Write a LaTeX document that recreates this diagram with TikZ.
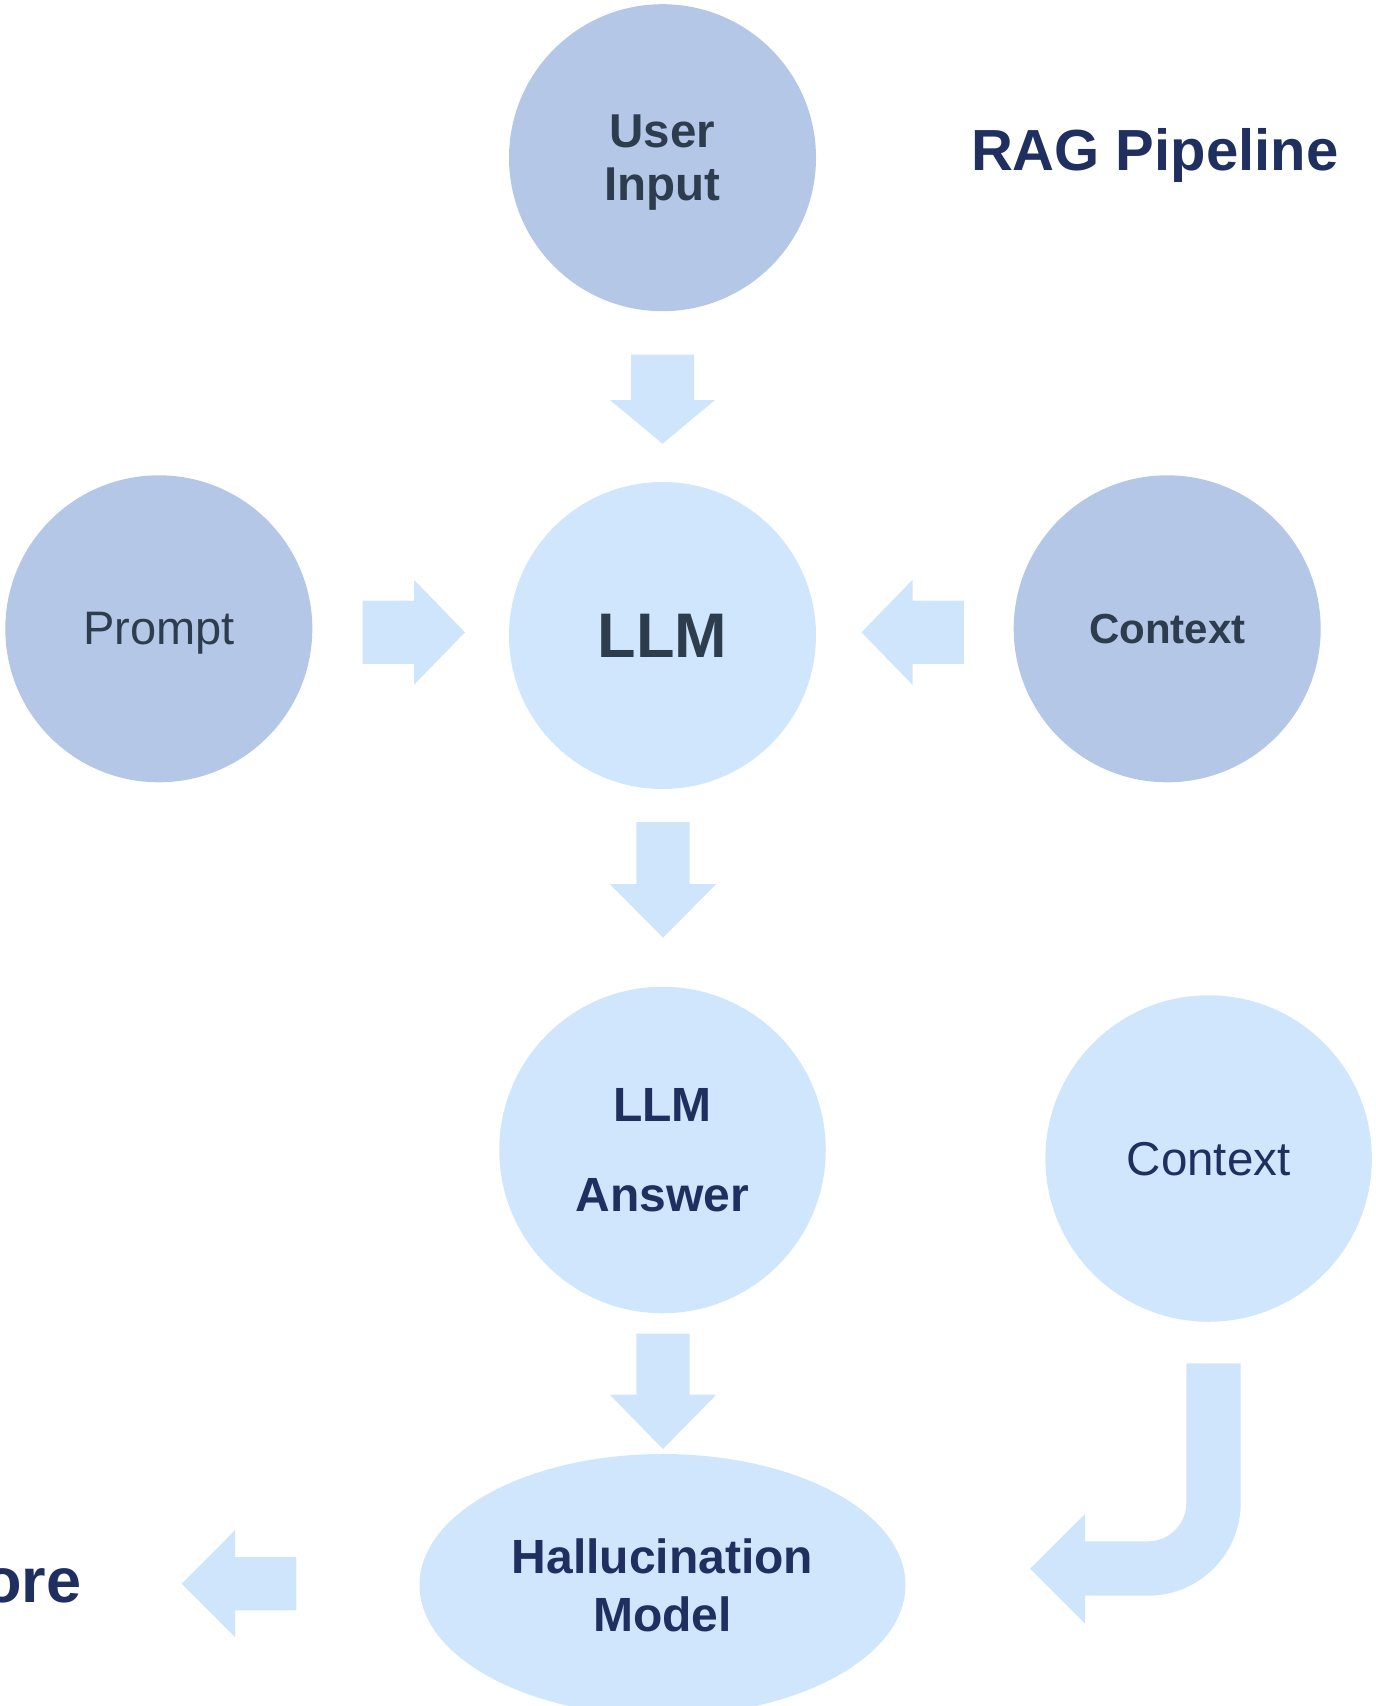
\documentclass[tikz,border=0pt]{standalone}
\usepackage{fontspec}
\setmainfont{Liberation Sans}
\usetikzlibrary{shapes.geometric}
\definecolor{bubbledark}{HTML}{B4C7E7}
\definecolor{bubblelight}{HTML}{D0E6FC}
\definecolor{arrowblue}{HTML}{CFE5FC}
\definecolor{navy}{HTML}{1F2F5F}
\definecolor{slate}{HTML}{2E3D4E}
\begin{document}
\begin{tikzpicture}[x=0.4pt, y=-0.4pt,
	bubble/.style = {shape=circle, inner sep=0pt, text depth=0pt, align=center},
	darkbubble/.style = {bubble, fill=bubbledark, text=slate, minimum size=122.8pt},
	lightbubble/.style = {bubble, fill=bubblelight, text=navy, minimum size=130.6pt},
	pics/fatarrow/.style n args = {4}{code = {
		\fill[arrowblue] (0,-#3) -- (#1-#2,-#3) -- (#1-#2,-#4) -- (#1,0)
			-- (#1-#2,#4) -- (#1-#2,#3) -- (0,#3) -- cycle;
	}}]
	\clip (0,0) rectangle (1375,1706);

	% bubbles
	\node[darkbubble, font=\fontsize{19pt}{21.1pt}\selectfont\bfseries] (user) at (662.5,157.7) {User\\Input};
	\node[lightbubble, minimum size=122.8pt, text=slate, font=\fontsize{25.2pt}{25.2pt}\selectfont\bfseries] (llm) at (662.5,635.5) {LLM};
	\node[darkbubble, font=\fontsize{18.8pt}{18.8pt}\selectfont] (prompt) at (158.8,628.8) {Prompt};
	\node[darkbubble, font=\fontsize{16.8pt}{16.8pt}\selectfont\bfseries] (context) at (1167.2,628.8) {Context};
	\node[lightbubble, font=\fontsize{19.2pt}{35.7pt}\selectfont\bfseries] (answer) at (662.5,1150) {LLM\\Answer};
	\node[lightbubble, font=\fontsize{19pt}{19pt}\selectfont] (docs) at (1208.6,1158.5) {Context};
	\node[lightbubble, shape=ellipse, minimum width=194.4pt, minimum height=104.8pt,
		font=\fontsize{19.2pt}{23.4pt}\selectfont\bfseries] (halluc) at (662.5,1585) {Hallucination\\Model};

	% labels
	\node[anchor=base, inner sep=0pt, text=navy, font=\fontsize{23.2pt}{23.2pt}\selectfont\bfseries] (title) at (1154.7,170.3) {RAG Pipeline};
	\node[anchor=base east, inner sep=0pt, text=navy, font=\fontsize{25.2pt}{25.2pt}\selectfont\bfseries] (score) at (81.7,1602.7) {Score};

	% block arrows
	\pic[rotate=-90] at (662.5,354.6) {fatarrow={89.2}{43.8}{31.5}{52.5}};
	\pic at (362.7,632.3) {fatarrow={102.3}{51}{31.6}{52.5}};
	\pic[rotate=180] at (963.8,632.3) {fatarrow={102.3}{51}{31.6}{52.5}};
	\pic[rotate=-90] at (663,822) {fatarrow={115.7}{53.7}{26.7}{53.3}};
	\pic[rotate=-90] at (663,1333.6) {fatarrow={115.4}{54.4}{26.7}{53.3}};
	\pic[rotate=180] at (296.3,1583.7) {fatarrow={114.6}{53.3}{26.7}{53.5}};
	\fill[arrowblue] (1186.3,1363.3) -- (1240.7,1363.3) -- (1240.7,1503)
		arc[start angle=0, end angle=90, radius=92.7] -- (1085,1595.7) -- (1085,1623.7)
		-- (1030,1568.7) -- (1085,1514) -- (1085,1541.3) -- (1148,1541.3)
		arc[start angle=90, end angle=0, radius=38.3] -- cycle;
\end{tikzpicture}
\end{document}
